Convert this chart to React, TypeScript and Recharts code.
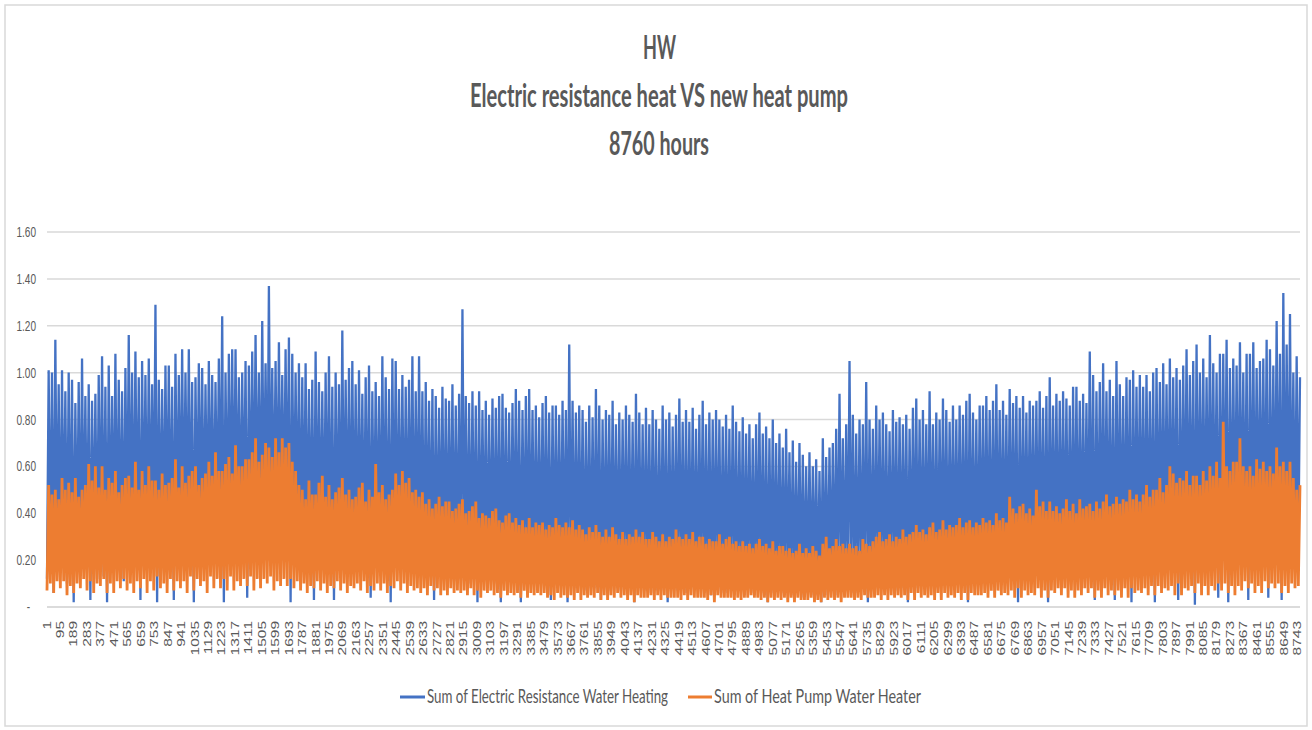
import React from "react";
import { CartesianGrid, Line, LineChart, XAxis, YAxis } from "recharts";

// Hourly load (kW), eight samples per 94-hour tick slot
// (low, peak, low, peak ...) so the dense band and its spikes come out like the original.
const RESISTANCE = [
  0.12, 1.01, 0.18, 1.0, 0.06, 1.14, 0.2, 0.95,
  0.15, 1.01, 0.22, 0.92, 0.1, 1.0, 0.17, 0.97,
  0.02, 0.87, 0.19, 0.96, 0.14, 1.06, 0.21, 0.9,
  0.16, 0.95, 0.03, 0.88, 0.2, 0.91, 0.12, 0.99,
  0.18, 1.07, 0.13, 0.94, 0.02, 1.03, 0.22, 0.9,
  0.2, 1.08, 0.15, 0.97, 0.19, 0.92, 0.11, 1.02,
  0.22, 1.16, 0.25, 1.0, 0.18, 1.09, 0.24, 0.98,
  0.03, 1.05, 0.26, 0.99, 0.22, 1.06, 0.28, 0.95,
  0.25, 1.29, 0.02, 0.97, 0.27, 0.93, 0.23, 1.03,
  0.28, 1.03, 0.24, 0.94, 0.03, 1.08, 0.26, 0.99,
  0.3, 1.1, 0.27, 1.0, 0.29, 1.1, 0.25, 0.96,
  0.02, 0.98, 0.28, 1.04, 0.31, 1.02, 0.26, 0.95,
  0.29, 1.05, 0.32, 0.99, 0.27, 0.96, 0.3, 1.06,
  0.31, 1.24, 0.02, 1.0, 0.28, 1.08, 0.33, 1.1,
  0.3, 1.1, 0.34, 0.98, 0.29, 1.0, 0.32, 1.05,
  0.04, 1.03, 0.33, 1.09, 0.31, 1.16, 0.35, 1.0,
  0.32, 1.22, 0.36, 1.04, 0.3, 1.37, 0.34, 1.02,
  0.35, 1.05, 0.31, 1.13, 0.36, 0.99, 0.33, 1.1,
  0.3, 1.15, 0.02, 1.08, 0.29, 1.0, 0.27, 1.04,
  0.2, 0.98, 0.24, 1.04, 0.18, 0.93, 0.22, 0.97,
  0.03, 1.09, 0.21, 0.96, 0.23, 0.92, 0.19, 1.0,
  0.22, 1.07, 0.18, 0.94, 0.03, 1.0, 0.2, 0.95,
  0.19, 1.18, 0.23, 0.97, 0.21, 1.02, 0.17, 1.05,
  0.2, 0.95, 0.16, 1.01, 0.22, 0.91, 0.18, 0.98,
  0.17, 1.03, 0.04, 0.92, 0.19, 0.96, 0.21, 0.9,
  0.18, 1.07, 0.2, 0.98, 0.15, 0.93, 0.02, 1.06,
  0.21, 1.05, 0.17, 0.93, 0.19, 0.99, 0.16, 0.94,
  0.18, 0.97, 0.2, 1.07, 0.14, 0.92, 0.19, 1.07,
  0.15, 0.92, 0.12, 0.96, 0.17, 0.88, 0.13, 0.93,
  0.03, 0.9, 0.14, 0.85, 0.16, 0.94, 0.12, 0.89,
  0.13, 0.88, 0.15, 0.95, 0.11, 0.86, 0.14, 0.91,
  0.12, 1.27, 0.16, 0.9, 0.13, 0.87, 0.1, 0.92,
  0.14, 0.86, 0.02, 0.92, 0.12, 0.84, 0.15, 0.88,
  0.11, 0.82, 0.13, 0.89, 0.1, 0.85, 0.12, 0.9,
  0.02, 0.91, 0.12, 0.85, 0.14, 0.83, 0.11, 0.87,
  0.13, 0.93, 0.1, 0.88, 0.02, 0.84, 0.12, 0.9,
  0.11, 0.93, 0.13, 0.84, 0.1, 0.86, 0.12, 0.81,
  0.12, 0.87, 0.09, 0.9, 0.11, 0.83, 0.03, 0.86,
  0.1, 0.86, 0.12, 0.82, 0.09, 0.88, 0.11, 0.84,
  0.02, 1.12, 0.1, 0.88, 0.08, 0.83, 0.11, 0.86,
  0.09, 0.84, 0.07, 0.79, 0.1, 0.86, 0.08, 0.81,
  0.08, 0.93, 0.1, 0.86, 0.03, 0.8, 0.09, 0.84,
  0.1, 0.82, 0.07, 0.88, 0.09, 0.78, 0.08, 0.83,
  0.07, 0.8, 0.09, 0.86, 0.06, 0.82, 0.1, 0.79,
  0.02, 0.91, 0.08, 0.83, 0.09, 0.78, 0.07, 0.85,
  0.08, 0.78, 0.06, 0.84, 0.09, 0.8, 0.07, 0.76,
  0.07, 0.86, 0.09, 0.8, 0.02, 0.83, 0.08, 0.77,
  0.09, 0.82, 0.07, 0.89, 0.08, 0.79, 0.06, 0.84,
  0.06, 0.79, 0.08, 0.85, 0.07, 0.76, 0.09, 0.82,
  0.08, 0.88, 0.06, 0.78, 0.07, 0.83, 0.05, 0.8,
  0.07, 0.84, 0.08, 0.8, 0.06, 0.77, 0.08, 0.82,
  0.06, 0.76, 0.07, 0.86, 0.05, 0.79, 0.07, 0.75,
  0.07, 0.81, 0.05, 0.74, 0.08, 0.78, 0.06, 0.72,
  0.05, 0.78, 0.07, 0.83, 0.06, 0.74, 0.05, 0.77,
  0.02, 0.72, 0.06, 0.8, 0.05, 0.7, 0.07, 0.74,
  0.06, 0.68, 0.05, 0.76, 0.07, 0.66, 0.05, 0.71,
  0.05, 0.62, 0.06, 0.7, 0.04, 0.65, 0.06, 0.6,
  0.06, 0.66, 0.05, 0.6, 0.07, 0.63, 0.05, 0.58,
  0.02, 0.72, 0.06, 0.64, 0.05, 0.68, 0.07, 0.7,
  0.06, 0.76, 0.05, 0.91, 0.07, 0.72, 0.06, 0.78,
  0.07, 1.05, 0.06, 0.82, 0.08, 0.74, 0.06, 0.8,
  0.08, 0.78, 0.07, 0.96, 0.02, 0.8, 0.08, 0.76,
  0.07, 0.86, 0.09, 0.8, 0.08, 0.83, 0.07, 0.78,
  0.09, 0.75, 0.08, 0.84, 0.1, 0.79, 0.07, 0.81,
  0.08, 0.78, 0.1, 0.82, 0.02, 0.76, 0.09, 0.85,
  0.1, 0.89, 0.08, 0.8, 0.09, 0.84, 0.11, 0.78,
  0.09, 0.92, 0.11, 0.78, 0.1, 0.83, 0.08, 0.8,
  0.11, 0.89, 0.09, 0.84, 0.1, 0.79, 0.12, 0.86,
  0.1, 0.8, 0.12, 0.86, 0.09, 0.82, 0.11, 0.88,
  0.02, 0.91, 0.1, 0.83, 0.12, 0.8, 0.11, 0.86,
  0.12, 0.86, 0.1, 0.9, 0.13, 0.84, 0.11, 0.88,
  0.11, 0.95, 0.13, 0.84, 0.12, 0.88, 0.14, 0.82,
  0.13, 0.93, 0.12, 0.87, 0.14, 0.9, 0.02, 0.85,
  0.12, 0.9, 0.14, 0.83, 0.13, 0.88, 0.15, 0.86,
  0.14, 0.88, 0.13, 0.92, 0.15, 0.85, 0.12, 0.9,
  0.02, 0.98, 0.14, 0.86, 0.16, 0.91, 0.13, 0.88,
  0.15, 0.92, 0.13, 0.89, 0.16, 0.86, 0.14, 0.94,
  0.14, 0.94, 0.16, 0.88, 0.15, 0.91, 0.17, 0.87,
  0.16, 1.09, 0.14, 0.99, 0.03, 0.92, 0.15, 0.96,
  0.15, 1.04, 0.17, 0.92, 0.16, 0.97, 0.14, 0.9,
  0.03, 1.05, 0.16, 0.95, 0.18, 0.9, 0.15, 0.98,
  0.17, 0.97, 0.02, 1.01, 0.16, 0.94, 0.18, 0.99,
  0.18, 0.94, 0.16, 0.99, 0.19, 0.92, 0.17, 1.0,
  0.02, 1.02, 0.19, 0.96, 0.18, 1.04, 0.2, 0.95,
  0.2, 1.06, 0.18, 0.98, 0.21, 1.02, 0.03, 0.97,
  0.19, 1.03, 0.21, 1.1, 0.2, 0.99, 0.22, 1.05,
  0.01, 1.12, 0.2, 1.0, 0.22, 1.06, 0.21, 0.98,
  0.22, 1.16, 0.2, 1.04, 0.23, 1.0, 0.04, 1.08,
  0.21, 1.08, 0.23, 1.14, 0.02, 1.02, 0.22, 1.06,
  0.23, 1.03, 0.21, 1.13, 0.24, 1.0, 0.22, 1.08,
  0.03, 1.08, 0.24, 1.13, 0.22, 1.02, 0.25, 1.05,
  0.24, 1.06, 0.22, 1.14, 0.04, 1.1, 0.23, 1.03,
  0.22, 1.22, 0.25, 1.08, 0.03, 1.34, 0.24, 1.12,
  0.25, 1.25, 0.23, 1.0, 0.26, 1.07, 0.24, 0.98,
];

const HEAT_PUMP = [
  0.07, 0.52, 0.1, 0.48, 0.06, 0.5, 0.11, 0.46,
  0.08, 0.55, 0.11, 0.5, 0.05, 0.53, 0.09, 0.49,
  0.06, 0.55, 0.1, 0.47, 0.08, 0.5, 0.12, 0.52,
  0.07, 0.61, 0.11, 0.54, 0.06, 0.6, 0.1, 0.51,
  0.09, 0.6, 0.12, 0.5, 0.06, 0.55, 0.1, 0.53,
  0.06, 0.58, 0.11, 0.49, 0.08, 0.52, 0.12, 0.55,
  0.07, 0.56, 0.1, 0.51, 0.06, 0.62, 0.11, 0.5,
  0.08, 0.58, 0.12, 0.52, 0.06, 0.6, 0.11, 0.54,
  0.07, 0.54, 0.13, 0.5, 0.08, 0.57, 0.1, 0.52,
  0.06, 0.53, 0.12, 0.55, 0.07, 0.63, 0.11, 0.51,
  0.08, 0.6, 0.11, 0.53, 0.06, 0.56, 0.13, 0.58,
  0.07, 0.6, 0.12, 0.52, 0.09, 0.55, 0.11, 0.57,
  0.06, 0.62, 0.13, 0.56, 0.08, 0.66, 0.12, 0.58,
  0.08, 0.58, 0.12, 0.61, 0.07, 0.64, 0.13, 0.57,
  0.07, 0.69, 0.11, 0.6, 0.09, 0.6, 0.12, 0.63,
  0.09, 0.63, 0.13, 0.66, 0.07, 0.72, 0.12, 0.62,
  0.08, 0.65, 0.12, 0.7, 0.1, 0.68, 0.13, 0.64,
  0.07, 0.72, 0.11, 0.66, 0.09, 0.72, 0.12, 0.68,
  0.09, 0.7, 0.12, 0.62, 0.08, 0.58, 0.11, 0.52,
  0.07, 0.5, 0.1, 0.46, 0.06, 0.54, 0.09, 0.48,
  0.08, 0.48, 0.11, 0.53, 0.07, 0.56, 0.1, 0.47,
  0.06, 0.52, 0.09, 0.46, 0.08, 0.49, 0.11, 0.51,
  0.07, 0.55, 0.1, 0.48, 0.06, 0.5, 0.09, 0.46,
  0.08, 0.47, 0.1, 0.51, 0.07, 0.53, 0.11, 0.45,
  0.06, 0.5, 0.09, 0.47, 0.07, 0.61, 0.1, 0.49,
  0.07, 0.52, 0.1, 0.46, 0.06, 0.48, 0.09, 0.5,
  0.08, 0.57, 0.11, 0.52, 0.07, 0.58, 0.1, 0.53,
  0.06, 0.55, 0.09, 0.49, 0.07, 0.5, 0.08, 0.47,
  0.06, 0.49, 0.08, 0.44, 0.05, 0.46, 0.09, 0.42,
  0.07, 0.44, 0.08, 0.47, 0.05, 0.43, 0.07, 0.45,
  0.05, 0.45, 0.08, 0.41, 0.06, 0.42, 0.07, 0.44,
  0.06, 0.46, 0.07, 0.4, 0.05, 0.41, 0.08, 0.43,
  0.05, 0.45, 0.07, 0.38, 0.04, 0.4, 0.07, 0.39,
  0.06, 0.38, 0.07, 0.41, 0.05, 0.42, 0.06, 0.37,
  0.04, 0.36, 0.07, 0.39, 0.05, 0.4, 0.06, 0.36,
  0.05, 0.38, 0.06, 0.35, 0.04, 0.37, 0.07, 0.34,
  0.04, 0.38, 0.06, 0.34, 0.05, 0.36, 0.06, 0.35,
  0.05, 0.36, 0.06, 0.33, 0.04, 0.35, 0.05, 0.34,
  0.03, 0.38, 0.06, 0.35, 0.04, 0.34, 0.05, 0.36,
  0.04, 0.34, 0.05, 0.37, 0.03, 0.33, 0.06, 0.35,
  0.03, 0.33, 0.05, 0.31, 0.04, 0.34, 0.05, 0.32,
  0.04, 0.35, 0.06, 0.32, 0.03, 0.3, 0.05, 0.33,
  0.03, 0.3, 0.05, 0.34, 0.04, 0.31, 0.06, 0.29,
  0.04, 0.32, 0.05, 0.29, 0.03, 0.31, 0.05, 0.3,
  0.02, 0.33, 0.05, 0.3, 0.04, 0.32, 0.04, 0.29,
  0.04, 0.29, 0.05, 0.32, 0.03, 0.3, 0.05, 0.28,
  0.03, 0.31, 0.05, 0.28, 0.04, 0.3, 0.04, 0.29,
  0.04, 0.33, 0.04, 0.3, 0.03, 0.29, 0.05, 0.31,
  0.03, 0.29, 0.05, 0.32, 0.04, 0.28, 0.04, 0.3,
  0.04, 0.3, 0.04, 0.27, 0.03, 0.29, 0.05, 0.28,
  0.02, 0.28, 0.05, 0.31, 0.04, 0.27, 0.04, 0.29,
  0.04, 0.3, 0.04, 0.27, 0.03, 0.28, 0.04, 0.26,
  0.03, 0.28, 0.04, 0.26, 0.04, 0.27, 0.05, 0.25,
  0.04, 0.27, 0.04, 0.29, 0.03, 0.26, 0.04, 0.27,
  0.02, 0.25, 0.04, 0.28, 0.03, 0.24, 0.04, 0.26,
  0.03, 0.26, 0.04, 0.24, 0.02, 0.25, 0.04, 0.23,
  0.02, 0.24, 0.04, 0.27, 0.03, 0.23, 0.03, 0.25,
  0.03, 0.23, 0.04, 0.26, 0.02, 0.24, 0.03, 0.22,
  0.02, 0.27, 0.04, 0.3, 0.03, 0.25, 0.04, 0.26,
  0.03, 0.29, 0.04, 0.26, 0.02, 0.27, 0.04, 0.25,
  0.04, 0.27, 0.04, 0.25, 0.03, 0.26, 0.04, 0.24,
  0.03, 0.29, 0.05, 0.27, 0.04, 0.26, 0.04, 0.28,
  0.04, 0.3, 0.05, 0.32, 0.03, 0.28, 0.05, 0.29,
  0.03, 0.31, 0.05, 0.28, 0.04, 0.3, 0.05, 0.29,
  0.04, 0.33, 0.05, 0.3, 0.03, 0.31, 0.06, 0.32,
  0.03, 0.35, 0.06, 0.32, 0.04, 0.33, 0.05, 0.31,
  0.04, 0.34, 0.05, 0.36, 0.03, 0.32, 0.06, 0.33,
  0.03, 0.37, 0.06, 0.33, 0.04, 0.35, 0.05, 0.34,
  0.04, 0.35, 0.06, 0.38, 0.03, 0.34, 0.06, 0.36,
  0.03, 0.37, 0.06, 0.34, 0.05, 0.36, 0.05, 0.35,
  0.05, 0.38, 0.06, 0.36, 0.04, 0.37, 0.07, 0.35,
  0.04, 0.4, 0.07, 0.37, 0.05, 0.38, 0.06, 0.36,
  0.05, 0.47, 0.07, 0.42, 0.04, 0.4, 0.08, 0.43,
  0.04, 0.44, 0.07, 0.4, 0.05, 0.42, 0.06, 0.39,
  0.05, 0.5, 0.08, 0.43, 0.04, 0.45, 0.07, 0.41,
  0.04, 0.45, 0.07, 0.41, 0.06, 0.43, 0.08, 0.4,
  0.05, 0.42, 0.08, 0.46, 0.04, 0.41, 0.07, 0.44,
  0.04, 0.4, 0.07, 0.46, 0.05, 0.42, 0.08, 0.43,
  0.06, 0.44, 0.08, 0.41, 0.04, 0.45, 0.07, 0.42,
  0.04, 0.45, 0.08, 0.48, 0.05, 0.43, 0.07, 0.44,
  0.05, 0.47, 0.07, 0.44, 0.04, 0.46, 0.08, 0.45,
  0.04, 0.5, 0.08, 0.46, 0.06, 0.48, 0.07, 0.45,
  0.06, 0.48, 0.08, 0.52, 0.05, 0.47, 0.09, 0.5,
  0.05, 0.5, 0.09, 0.55, 0.06, 0.49, 0.08, 0.52,
  0.07, 0.6, 0.09, 0.57, 0.05, 0.53, 0.1, 0.55,
  0.05, 0.54, 0.08, 0.58, 0.07, 0.52, 0.09, 0.56,
  0.06, 0.56, 0.1, 0.52, 0.05, 0.58, 0.09, 0.54,
  0.05, 0.6, 0.09, 0.56, 0.07, 0.62, 0.1, 0.55,
  0.07, 0.79, 0.1, 0.6, 0.06, 0.58, 0.09, 0.62,
  0.05, 0.62, 0.09, 0.72, 0.07, 0.6, 0.11, 0.58,
  0.08, 0.6, 0.1, 0.56, 0.06, 0.63, 0.09, 0.59,
  0.06, 0.62, 0.11, 0.58, 0.08, 0.6, 0.1, 0.57,
  0.08, 0.68, 0.1, 0.6, 0.06, 0.62, 0.09, 0.58,
  0.06, 0.62, 0.1, 0.55, 0.08, 0.5, 0.09, 0.52,
];

const TITLE_LINES = ["HW", "Electric resistance heat VS new heat pump", "8760 hours"];
const SERIES_NAMES = ["Sum of Electric Resistance Water Heating", "Sum of Heat Pump Water Heater"];
const X_TICKS = Array.from({ length: 94 }, (_, i) => 1 + i * 94);
const Y_TICKS = [0, 0.2, 0.4, 0.6, 0.8, 1.0, 1.2, 1.4, 1.6];

const BLUE = "#4472C4";
const ORANGE = "#ED7D31";
const GREY_TEXT = "#595959";
const GRID = "#D9D9D9";

// samples sit evenly over the 8760 hours
const data = RESISTANCE.map((v, i) => ({
  hour: 1 + (i * 8759) / (RESISTANCE.length - 1),
  resistance: v,
  heatPump: HEAT_PUMP[i],
}));

const XTick = ({ x, y, payload }: any) => (
  <text
    transform={`translate(${x + 3.6},${y + 6}) scale(0.65,1) rotate(-90)`}
    textAnchor="end"
    fontFamily="Liberation Sans, Arial, sans-serif"
    fontSize={15.5}
    fill={GREY_TEXT}
  >
    {payload.value}
  </text>
);

const YTick = ({ y, payload }: any) => {
  const v = payload.value as number;
  return (
    <text
      transform={`translate(${v === 0 ? 30 : 36},${y + 5}) scale(0.72,1)`}
      textAnchor="end"
      fontFamily="Liberation Sans, Arial, sans-serif"
      fontSize={14}
      fill={GREY_TEXT}
    >
      {v === 0 ? "-" : v.toFixed(2)}
    </text>
  );
};

export default function App() {
  return (
    <div style={{ position: "absolute", left: 0, top: 0, width: 1312, height: 730, background: "#fff" }}>
      <LineChart width={1312} height={730} data={data} margin={{ top: 232, right: 12, bottom: 63, left: 7 }}>
        <CartesianGrid vertical={false} stroke={GRID} strokeWidth={1.5} />
        <XAxis
          type="number"
          dataKey="hour"
          domain={[1, 8760]}
          ticks={X_TICKS}
          interval={0}
          tickLine={false}
          axisLine={{ stroke: GRID, strokeWidth: 1.5 }}
          tick={<XTick />}
          height={60}
        />
        <YAxis
          domain={[0, 1.6]}
          ticks={Y_TICKS}
          interval={0}
          axisLine={false}
          tickLine={false}
          tick={<YTick />}
          width={40}
        />
        <Line
          type="linear"
          dataKey="resistance"
          name={SERIES_NAMES[0]}
          stroke={BLUE}
          strokeWidth={2.3}
          dot={false}
          isAnimationActive={false}
        />
        <Line
          type="linear"
          dataKey="heatPump"
          name={SERIES_NAMES[1]}
          stroke={ORANGE}
          strokeWidth={2.8}
          dot={false}
          isAnimationActive={false}
        />
      </LineChart>
      <svg
        width={1312}
        height={730}
        style={{ position: "absolute", left: 0, top: 0, pointerEvents: "none" }}
      >
        <rect x={5} y={5} width={1302} height={721} fill="none" stroke={GRID} strokeWidth={1.5} />
        <g fontFamily="Lato, Open Sans, sans-serif" fontWeight={700} fontSize={32} fill={GREY_TEXT}>
          <text x={643} y={59} textLength={33} lengthAdjust="spacingAndGlyphs">
            {TITLE_LINES[0]}
          </text>
          <text x={470} y={107} textLength={378} lengthAdjust="spacingAndGlyphs">
            {TITLE_LINES[1]}
          </text>
          <text x={609} y={155} textLength={100} lengthAdjust="spacingAndGlyphs">
            {TITLE_LINES[2]}
          </text>
        </g>
        <line x1={400} y1={697} x2={425} y2={697} stroke={BLUE} strokeWidth={3} />
        <line x1={688} y1={697} x2={712} y2={697} stroke={ORANGE} strokeWidth={3} />
        <g fontFamily="Lato, Open Sans, sans-serif" fontSize={13} fill={GREY_TEXT}>
          <text transform="translate(427,703) scale(1,1.45)" textLength={241} lengthAdjust="spacingAndGlyphs">
            {SERIES_NAMES[0]}
          </text>
          <text transform="translate(714,703) scale(1,1.45)" textLength={207} lengthAdjust="spacingAndGlyphs">
            {SERIES_NAMES[1]}
          </text>
        </g>
      </svg>
    </div>
  );
}
